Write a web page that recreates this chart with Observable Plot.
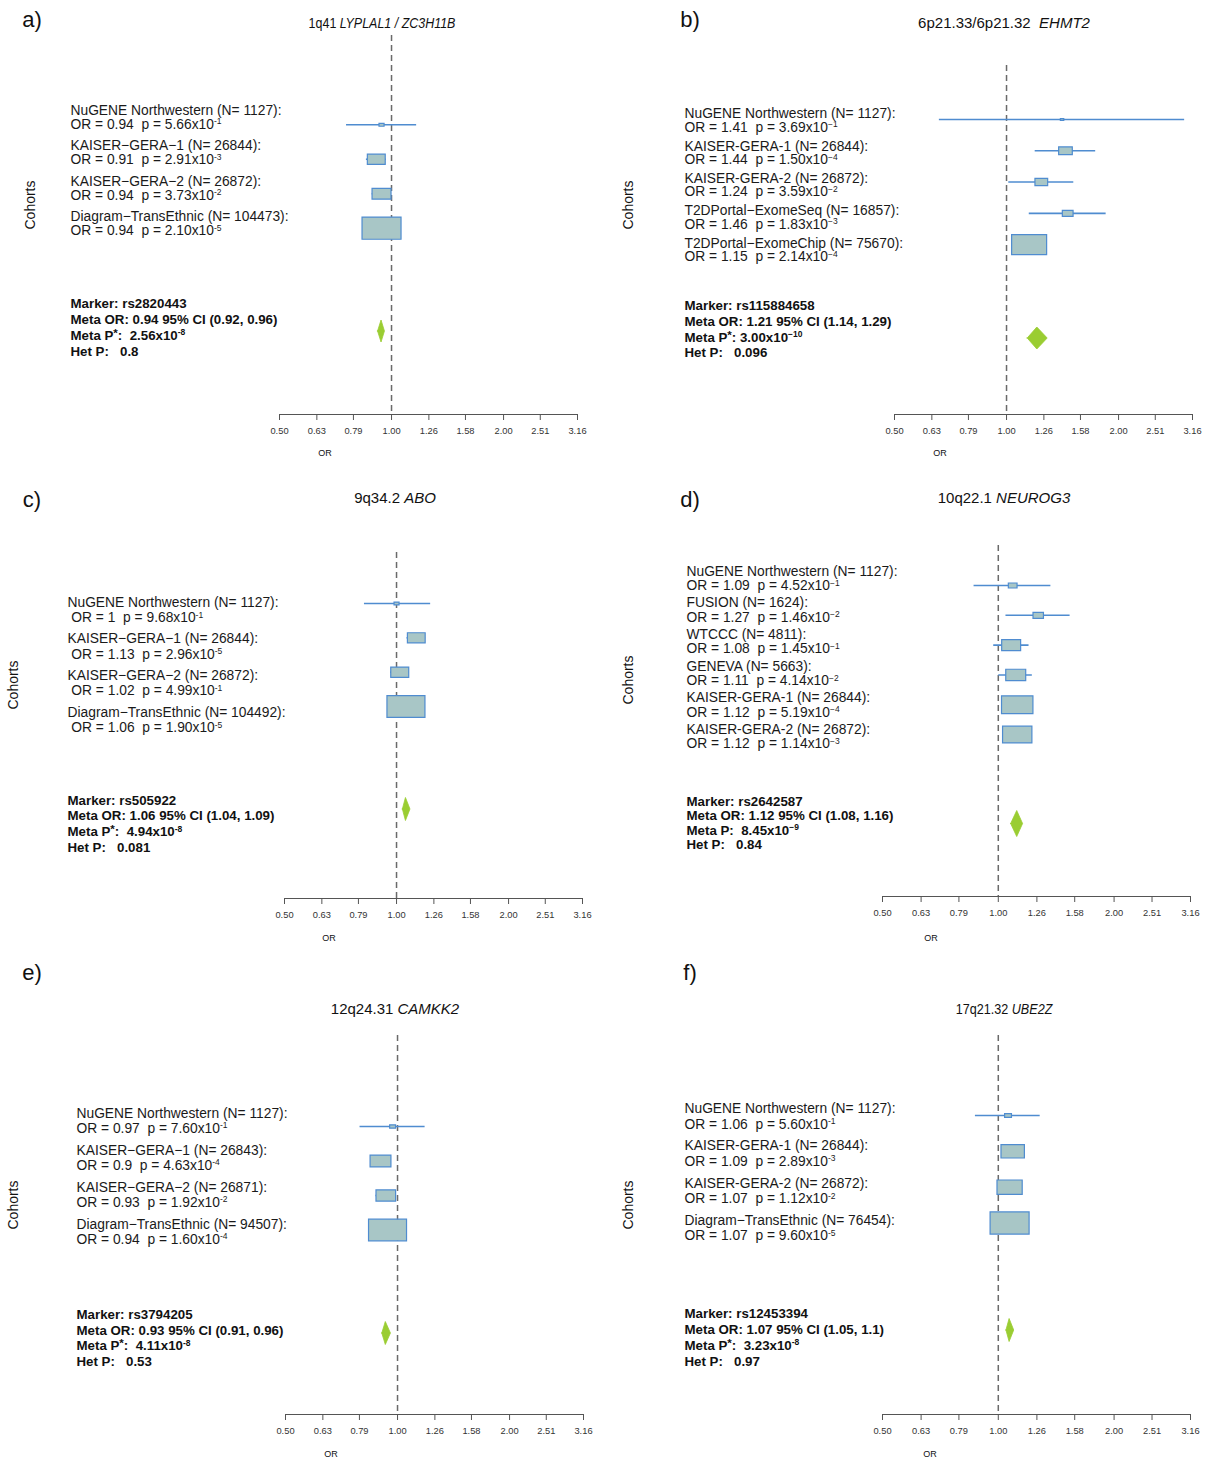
<!DOCTYPE html>
<html><head><meta charset="utf-8">
<script src="https://cdn.jsdelivr.net/npm/d3@7"></script>
<script src="https://cdn.jsdelivr.net/npm/@observablehq/plot@0.6"></script>
<style>
body{margin:0;background:#fff;}
#page{position:relative;width:1207px;height:1461px;font-family:"Liberation Sans",Arial,Helvetica,sans-serif;color:#111;overflow:hidden;background:#fff}
.panel{position:absolute}
.panel svg text{white-space:pre}
.lbl{position:absolute;white-space:pre;line-height:1;transform:translate(-50%,-50%)}
</style></head><body><div id="page"></div>
<script>
// ---------- axis tick labels ----------
const orTicks = [0.50, 0.63, 0.79, 1.00, 1.26, 1.58, 2.00, 2.51, 3.16];

// ---------- panel titles ----------
const panelLetters = ["a)", "b)", "c)", "d)", "e)", "f)"];
const lociLabels = ["1q41", "6p21.33/6p21.32", "9q34.2", "10q22.1", "12q24.31", "17q21.32"];
const geneLabels = ["LYPLAL1 / ZC3H11B", "EHMT2", "ABO", "NEUROG3", "CAMKK2", "UBE2Z"];

// ---------- panel a ----------
const cohortsA = ["NuGENE Northwestern", "KAISER−GERA−1", "KAISER−GERA−2", "Diagram−TransEthnic"];
const nA = [1127, 26844, 26872, 104473];
const orA = [0.94, 0.91, 0.94, 0.94];
const pA = [5.66e-1, 2.91e-3, 3.73e-2, 2.10e-5];
const loA = [0.757, 0.856, 0.887, 0.914];
const hiA = [1.168, 0.968, 0.996, 0.967];
const markerA = "rs2820443";
const metaA = [0.94, 0.92, 0.96];
const metaPA = 2.56e-8;
const hetPA = "0.8";

// ---------- panel b ----------
const cohortsB = ["NuGENE Northwestern", "KAISER-GERA-1", "KAISER-GERA-2", "T2DPortal−ExomeSeq", "T2DPortal−ExomeChip"];
const nB = [1127, 26844, 26872, 16857, 75670];
const orB = [1.41, 1.44, 1.24, 1.46, 1.15];
const pB = [3.69e-1, 1.50e-4, 3.59e-2, 1.83e-3, 2.14e-4];
const loB = [0.66, 1.194, 1.014, 1.151, 1.069];
const hiB = [3.01, 1.736, 1.516, 1.852, 1.237];
const markerB = "rs115884658";
const metaB = [1.21, 1.14, 1.29];
const metaPB = 3.00e-10;
const hetPB = "0.096";

// ---------- panel c ----------
const cohortsC = ["NuGENE Northwestern", "KAISER−GERA−1", "KAISER−GERA−2", "Diagram−TransEthnic"];
const nC = [1127, 26844, 26872, 104492];
const orC = [1, 1.13, 1.02, 1.06];
const pC = [9.68e-1, 2.96e-5, 4.99e-1, 1.90e-5];
const loC = [0.82, 1.067, 0.964, 1.032];
const hiC = [1.235, 1.197, 1.080, 1.089];
const markerC = "rs505922";
const metaC = [1.06, 1.04, 1.09];
const metaPC = 4.94e-8;
const hetPC = "0.081";

// ---------- panel d ----------
const cohortsD = ["NuGENE Northwestern", "FUSION", "WTCCC", "GENEVA", "KAISER-GERA-1", "KAISER-GERA-2"];
const nD = [1127, 1624, 4811, 5663, 26844, 26872];
const orD = [1.09, 1.27, 1.08, 1.11, 1.12, 1.12];
const pD = [4.52e-1, 1.46e-2, 1.45e-1, 4.14e-2, 5.19e-4, 1.14e-3];
const loD = [0.865, 1.047, 0.973, 1.003, 1.051, 1.046];
const hiD = [1.37, 1.537, 1.202, 1.226, 1.194, 1.199];
const markerD = "rs2642587";
const metaD = [1.12, 1.08, 1.16];
const metaPD = 8.45e-9;
const hetPD = "0.84";

// ---------- panel e ----------
const cohortsE = ["NuGENE Northwestern", "KAISER−GERA−1", "KAISER−GERA−2", "Diagram−TransEthnic"];
const nE = [1127, 26843, 26871, 94507];
const orE = [0.97, 0.9, 0.93, 0.94];
const pE = [7.60e-1, 4.63e-4, 1.92e-2, 1.60e-4];
const loE = [0.793, 0.850, 0.875, 0.911];
const hiE = [1.186, 0.953, 0.988, 0.970];
const markerE = "rs3794205";
const metaE = [0.93, 0.91, 0.96];
const metaPE = 4.11e-8;
const hetPE = "0.53";

// ---------- panel f ----------
const cohortsF = ["NuGENE Northwestern", "KAISER-GERA-1", "KAISER-GERA-2", "Diagram−TransEthnic"];
const nF = [1127, 26844, 26872, 76454];
const orF = [1.06, 1.09, 1.07, 1.07];
const pF = [5.60e-1, 2.89e-3, 1.12e-2, 9.60e-5];
const loF = [0.872, 1.030, 1.015, 1.034];
const hiF = [1.285, 1.154, 1.128, 1.107];
const markerF = "rs12453394";
const metaF = [1.07, 1.05, 1.1];
const metaPF = 3.23e-8;
const hetPF = "0.97";

// ---------- styling ----------
const FONT = '"Liberation Sans", Arial, Helvetica, sans-serif';
const BLUE = "#4f8cd0";
const BOXFILL = "#a8c6c6";
const GREEN = "#9acd32";
const DASH = "#6a6a6a";

// ---------- layout (global pixel geometry of each panel) ----------
const layouts = [
  {left:0,   top:0,   W:603, H:487, x0:279, x1:577, dashTop:35,   axisY:414,  box0:124.3, metaY:331,    metaRow:6, textTop:116.7, textStep:35.5, gap:13.8, metaCenter:327,   metaGap:16,   labelX:70,  rmax:19.5, dH:11,  indent:"",  minus:"-", sep:"  ", star:true,
   letter:[32,20],  title:[382,22],    titleSX:0.83, cohortsLbl:[30,205],  orLbl:[325,453]},
  {left:603, top:0,   W:604, H:487, x0:894, x1:1192, dashTop:65,  axisY:414,  box0:119,   metaY:338,    metaRow:7, textTop:120,   textStep:32.4, gap:13.4, metaCenter:329,   metaGap:15.6, labelX:684, rmax:17.5, dH:11,  indent:"",  minus:"−", sep:" ",  star:true,
   letter:[690,20], title:[1004,22],   titleSX:1,    cohortsLbl:[628,205], orLbl:[940,453]},
  {left:0,   top:487, W:603, H:487, x0:284, x1:582, dashTop:552,  axisY:898,  box0:603,   metaY:809,    metaRow:6, textTop:609.5, textStep:36.7, gap:15.3, metaCenter:823.5, metaGap:15.8, labelX:67,  rmax:19,   dH:11.5, indent:" ", minus:"-", sep:"  ", star:true,
   letter:[32,500], title:[395,497],   titleSX:1,    cohortsLbl:[13,685],  orLbl:[329,938]},
  {left:603, top:487, W:604, H:487, x0:882, x1:1190, dashTop:545, axisY:896,  box0:585,   metaY:823.5,  metaRow:8, textTop:578,   textStep:31.65,gap:14.3, metaCenter:822.75,metaGap:14.6, labelX:686, rmax:15.7, dH:13,  indent:"",  minus:"−", sep:"  ", star:false,
   letter:[690,500],title:[1004,497],  titleSX:1,    cohortsLbl:[628,680], orLbl:[931,938]},
  {left:0,   top:974, W:603, H:487, x0:285, x1:583, dashTop:1035, axisY:1414, box0:1126,  metaY:1333,   metaRow:6, textTop:1120.5,textStep:37,   gap:15,   metaCenter:1337.75,metaGap:15.8,labelX:76,  rmax:19,   dH:11.5, indent:"", minus:"-", sep:"  ", star:true,
   letter:[32,973], title:[395,1008],  titleSX:1,    cohortsLbl:[13,1205], orLbl:[331,1454]},
  {left:603, top:974, W:604, H:487, x0:882, x1:1190, dashTop:1035,axisY:1414, box0:1115,  metaY:1330,   metaRow:6, textTop:1116,  textStep:37.2, gap:15.5, metaCenter:1337,  metaGap:16,   labelX:684, rmax:19.5, dH:11.5, indent:"", minus:"-", sep:"  ", star:true,
   letter:[690,973],title:[1003.5,1008],titleSX:0.84, cohortsLbl:[628,1205],orLbl:[930,1454]}
];

const panelData = [
  {cohorts:cohortsA, n:nA, or:orA, p:pA, lo:loA, hi:hiA, marker:markerA, meta:metaA, metaP:metaPA, het:hetPA},
  {cohorts:cohortsB, n:nB, or:orB, p:pB, lo:loB, hi:hiB, marker:markerB, meta:metaB, metaP:metaPB, het:hetPB},
  {cohorts:cohortsC, n:nC, or:orC, p:pC, lo:loC, hi:hiC, marker:markerC, meta:metaC, metaP:metaPC, het:hetPC},
  {cohorts:cohortsD, n:nD, or:orD, p:pD, lo:loD, hi:hiD, marker:markerD, meta:metaD, metaP:metaPD, het:hetPD},
  {cohorts:cohortsE, n:nE, or:orE, p:pE, lo:loE, hi:hiE, marker:markerE, meta:metaE, metaP:metaPE, het:hetPE},
  {cohorts:cohortsF, n:nF, or:orF, p:pF, lo:loF, hi:hiF, marker:markerF, meta:metaF, metaP:metaPF, het:hetPF}
];

// ---------- helpers ----------
function fmtP(p, minus) {
  const e = Math.floor(Math.log10(p) + 1e-9);
  const m = p / Math.pow(10, e);
  return m.toFixed(2) + "x10^{" + (e < 0 ? minus : "") + Math.abs(e) + "}";
}

// rectangle box symbol (wider than tall), area follows the r scale
const rectSymbol = {
  draw(ctx, size) {
    const r = Math.sqrt(size / Math.PI);
    const w = r, h = r * 0.57;
    ctx.moveTo(-w, -h); ctx.lineTo(w, -h); ctx.lineTo(w, h); ctx.lineTo(-w, h); ctx.closePath();
  }
};

function applySup(svg) {
  const ns = "http://www.w3.org/2000/svg";
  svg.querySelectorAll("text").forEach(t => {
    const s = t.textContent;
    if (!s.includes("^{")) return;
    const parts = s.split(/\^\{([^}]*)\}/);
    while (t.firstChild) t.removeChild(t.firstChild);
    let cur = 0;
    parts.forEach((part, i) => {
      if (part === "") return;
      const sp = document.createElementNS(ns, "tspan");
      const sup = i % 2 === 1;
      const star = sup && part === "*";
      const target = sup ? (star ? -3 : -4.5) : 0;
      if (target !== cur) { sp.setAttribute("dy", target - cur); cur = target; }
      if (sup) sp.setAttribute("font-size", star ? "11.5" : "8.5");
      sp.textContent = part;
      t.appendChild(sp);
    });
  });
}

const page = document.getElementById("page");

function addLabel(html, x, y, css) {
  const d = document.createElement("div");
  d.className = "lbl";
  d.innerHTML = html;
  d.style.left = x + "px";
  d.style.top = y + "px";
  Object.assign(d.style, css || {});
  page.appendChild(d);
  return d;
}

layouts.forEach((L, idx) => {
  const D = panelData[idx];
  const mL = L.x0 - L.left, mR = L.W - (L.x1 - L.left);
  const mT = L.dashTop - L.top, mB = L.H - (L.axisY - L.top);
  const step = (L.metaY - L.box0) / L.metaRow;
  const axisRow = L.metaRow + (L.axisY - L.metaY) / step;

  const rows = D.cohorts.map((c, i) => ({
    i, or: D.or[i], lo: D.lo[i], hi: D.hi[i],
    w: 1 / Math.pow(Math.log(D.hi[i]) - Math.log(D.lo[i]), 2)
  }));

  const cohortLines = [];
  D.cohorts.forEach((c, i) => {
    const ty = (L.textTop - L.box0) / step + i * L.textStep / step;
    cohortLines.push({t: `${c} (N= ${D.n[i]}):`, y: ty - L.gap / 2 / step});
    cohortLines.push({t: `${L.indent}OR = ${D.or[i]}  p = ${fmtP(D.p[i], L.minus)}`, y: ty + L.gap / 2 / step});
  });

  const mty = L.metaRow + (L.metaCenter - L.metaY) / step;
  const metaLines = [
    `Marker: ${D.marker}`,
    `Meta OR: ${D.meta[0]} 95% CI (${D.meta[1]}, ${D.meta[2]})`,
    `Meta P${L.star ? "^{*}" : ""}:${L.sep}${fmtP(D.metaP, L.minus)}`,
    `Het P:   ${D.het}`
  ].map((t, k) => ({t, y: mty + (k - 1.5) * L.metaGap / step}));

  const h = L.dH / step;
  const diamond = [
    {x: D.meta[1], y1: L.metaRow, y2: L.metaRow},
    {x: D.meta[0], y1: L.metaRow - h, y2: L.metaRow + h},
    {x: D.meta[2], y1: L.metaRow, y2: L.metaRow}
  ];

  const svg = Plot.plot({
    width: L.W, height: L.H,
    marginLeft: mL, marginRight: mR, marginTop: mT, marginBottom: mB,
    style: {fontFamily: FONT, background: "transparent", overflow: "visible", color: "#1a1a1a"},
    x: {type: "log", domain: [orTicks[0], orTicks[orTicks.length - 1]]},
    y: {domain: [0, L.metaRow], range: [L.box0 - L.top, L.metaY - L.top], axis: null},
    r: {range: [0, L.rmax]},
    marks: [
      Plot.ruleY([axisRow], {x1: orTicks[0], x2: orTicks[orTicks.length - 1], stroke: "#555", strokeWidth: 1.1}),
      Plot.axisX({ticks: orTicks, tickFormat: d => d.toFixed(2), tickSize: 6, tickPadding: 7, fontSize: 9.3, stroke: "#555", fill: "#333", label: null}),
      Plot.ruleX([1], {stroke: DASH, strokeWidth: 1.5, strokeDasharray: "6,4"}),
      Plot.ruleY(rows, {y: "i", x1: "lo", x2: "hi", stroke: BLUE, strokeWidth: 1.6}),
      Plot.dot(rows, {x: "or", y: "i", r: "w", symbol: rectSymbol, fill: BOXFILL, stroke: BLUE, strokeWidth: 1.2}),
      Plot.areaY(diamond, {x: "x", y1: "y1", y2: "y2", fill: GREEN, stroke: GREEN, strokeWidth: 0.8, curve: "linear"}),
      Plot.text(cohortLines, {y: "y", text: "t", frameAnchor: "left", textAnchor: "start", dx: L.labelX - L.x0, fontSize: 13.8, fill: "#1a1a1a"}),
      Plot.text(metaLines, {y: "y", text: "t", frameAnchor: "left", textAnchor: "start", dx: L.labelX - L.x0, fontSize: 13.3, fontWeight: "bold", fill: "#111"})
    ]
  });
  applySup(svg);
  const wrap = document.createElement("div");
  wrap.className = "panel";
  wrap.style.left = L.left + "px";
  wrap.style.top = L.top + "px";
  wrap.appendChild(svg);
  page.appendChild(wrap);

  // panel letter, title, y label, x label
  addLabel(panelLetters[idx], L.letter[0], L.letter[1], {fontSize: "22px"});
  const sep = idx === 1 ? "  " : " ";
  const tl = addLabel(`${lociLabels[idx]}${sep}<i>${geneLabels[idx]}</i>`, L.title[0], L.title[1], {fontSize: "15px"});
  tl.style.transform = `translate(-50%,-50%) scaleX(${L.titleSX})`;
  const cl = addLabel("Cohorts", L.cohortsLbl[0], L.cohortsLbl[1], {fontSize: "14px"});
  cl.style.transform = "translate(-50%,-50%) rotate(-90deg)";
  addLabel("OR", L.orLbl[0], L.orLbl[1], {fontSize: "9px"});
});
</script></body></html>
